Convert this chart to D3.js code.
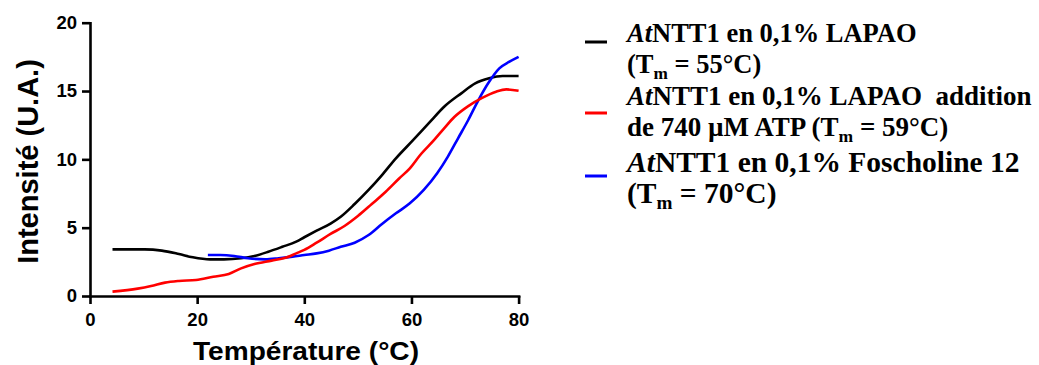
<!DOCTYPE html>
<html>
<head>
<meta charset="utf-8">
<script src="https://cdn.jsdelivr.net/npm/d3@7"></script>
<style>
  html, body { margin: 0; padding: 0; background: #fff; }
  svg { display: block; }
</style>
</head>
<body>
<svg id="chart" width="1039" height="365"></svg>
<script>
// ---- Data ----
const xTicks = [0, 20, 40, 60, 80];
const yTicks = [0, 5, 10, 15, 20];

const blackT = [4.2, 10.2, 13.4, 16.6, 19.2, 22.4, 25, 28.2, 30.7, 33.3, 35.9, 38.5, 40, 42.3, 44.9, 46.8, 49.4, 52, 54.5, 57.1, 60.3, 63.5, 66.1, 69.3, 71.9, 74.5, 77, 80];
const blackV = [3.41, 3.41, 3.32, 3.07, 2.83, 2.68, 2.68, 2.76, 2.93, 3.24, 3.6, 3.98, 4.3, 4.78, 5.3, 5.8, 6.73, 7.76, 8.85, 10.07, 11.4, 12.76, 13.85, 14.83, 15.56, 15.93, 16.1, 16.1];

const redT = [4.2, 8.9, 11.4, 14, 16.6, 19.8, 23, 25.9, 28.2, 30.7, 33.9, 36.5, 38.5, 40, 42.3, 44.9, 47.5, 50, 52.6, 55.2, 57.7, 59.7, 61.6, 64.2, 66.1, 68, 70.6, 73.2, 75.8, 77.7, 80];
const redV = [0.32, 0.54, 0.73, 0.98, 1.1, 1.17, 1.41, 1.61, 2.02, 2.34, 2.59, 2.8, 3.12, 3.37, 3.9, 4.54, 5.12, 5.85, 6.73, 7.63, 8.6, 9.34, 10.3, 11.4, 12.27, 13.1, 13.9, 14.5, 14.95, 15.12, 15.02];

const blueT = [22, 24.3, 26.9, 29.5, 32.7, 35.2, 37.8, 40, 42.3, 44.6, 46.8, 49.4, 52, 54.5, 57.1, 59.7, 62.3, 64.8, 66.8, 68.7, 70.6, 72.5, 74.5, 76.4, 78.3, 80];
const blueV = [3.0, 3.0, 2.93, 2.76, 2.68, 2.76, 2.88, 3.0, 3.12, 3.32, 3.6, 3.9, 4.46, 5.27, 6.05, 6.78, 7.76, 8.98, 10.2, 11.54, 12.88, 14.34, 15.68, 16.66, 17.15, 17.5];

const seriesColors = ["#000000", "#ff0000", "#0000ff"];

const xTitle = "Température (°C)";
const yTitle = "Intensité (U.A.)";

// ---- Layout ----
const svg = d3.select("#chart");
const x = d3.scaleLinear().domain([0, 80]).range([90, 518.6]);
const y = d3.scaleLinear().domain([0, 20]).range([296, 22.7]);

const series = [
  { t: blackT, v: blackV, color: seriesColors[0] },
  { t: redT, v: redV, color: seriesColors[1] },
  { t: blueT, v: blueV, color: seriesColors[2] }
];

const line = d3.line()
  .x(d => x(d[0]))
  .y(d => y(d[1]))
  .curve(d3.curveMonotoneX);

const drawOrder = [0, 2, 1];
drawOrder.forEach(i => {
  const s = series[i];
  svg.append("path")
    .datum(s.t.map((t, k) => [t, s.v[k]]))
    .attr("fill", "none")
    .attr("stroke", s.color)
    .attr("stroke-width", 2.6)
    .attr("stroke-linejoin", "round")
    .attr("d", line);
});

// Axes
const xAxis = svg.append("g")
  .attr("transform", "translate(0,296)")
  .call(d3.axisBottom(x).tickValues(xTicks).tickSize(8).tickSizeOuter(0).tickPadding(9));
const yAxis = svg.append("g")
  .attr("transform", "translate(90,0)")
  .call(d3.axisLeft(y).tickValues(yTicks).tickSize(8).tickSizeOuter(0).tickPadding(5));

[xAxis, yAxis].forEach(g => {
  g.selectAll("path, line").attr("stroke", "#000").attr("stroke-width", 2.6);
  g.selectAll("text")
    .attr("fill", "#000")
    .style("font-family", "'Liberation Sans', Arial, sans-serif")
    .style("font-weight", "bold")
    .style("font-size", "18.5px");
});
svg.selectAll(".domain").attr("stroke-linecap", "square");

// Axis titles
svg.append("text")
  .attr("x", 306).attr("y", 360)
  .attr("text-anchor", "middle")
  .attr("textLength", 226)
  .attr("lengthAdjust", "spacingAndGlyphs")
  .style("font-family", "'Liberation Sans', Arial, sans-serif")
  .style("font-weight", "bold")
  .style("font-size", "26px")
  .text(xTitle);

svg.append("text")
  .attr("transform", "translate(38,161.5) rotate(-90)")
  .attr("text-anchor", "middle")
  .style("font-family", "'Liberation Sans', Arial, sans-serif")
  .style("font-weight", "bold")
  .style("font-size", "29px")
  .text(yTitle);

// Legend
const legendItems = [
  { color: seriesColors[0], my: 42, size: 26.5, lines: [
    [["At", true], ["NTT1 en 0,1% LAPAO", false]],
    [["(T", false], ["m", false, "sub"], [" = 55°C)", false]]
  ], base: [42, 73] },
  { color: seriesColors[1], my: 113, size: 27, lines: [
    [["At", true], ["NTT1 en 0,1% LAPAO\u00a0 addition", false]],
    [["de 740 µM ATP (T", false], ["m", false, "sub"], [" = 59°C)", false]]
  ], base: [105, 136] },
  { color: seriesColors[2], my: 176, size: 29.5, lines: [
    [["At", true], ["NTT1 en 0,1% Foscholine 12", false]],
    [["(T", false], ["m", false, "sub"], [" = 70°C)", false]]
  ], base: [172, 203] }
];

const lg = svg.append("g");
legendItems.forEach(item => {
  lg.append("line")
    .attr("x1", 585).attr("x2", 607)
    .attr("y1", item.my).attr("y2", item.my)
    .attr("stroke", item.color)
    .attr("stroke-width", 3);
  item.lines.forEach((parts, li) => {
    const t = lg.append("text")
      .attr("x", 627).attr("y", item.base[li])
      .style("font-family", "'Liberation Serif', 'Times New Roman', serif")
      .style("font-weight", "bold")
      .style("font-size", item.size + "px")
      .attr("fill", "#000");
    let shifted = false;
    parts.forEach(p => {
      const ts = t.append("tspan").text(p[0]);
      if (p[1]) ts.style("font-style", "italic");
      if (p[2] === "sub") {
        ts.attr("dy", 6).style("font-size", (item.size * 0.65) + "px");
        shifted = true;
      } else if (shifted) {
        ts.attr("dy", -6);
        shifted = false;
      }
    });
  });
});
</script>
</body>
</html>
